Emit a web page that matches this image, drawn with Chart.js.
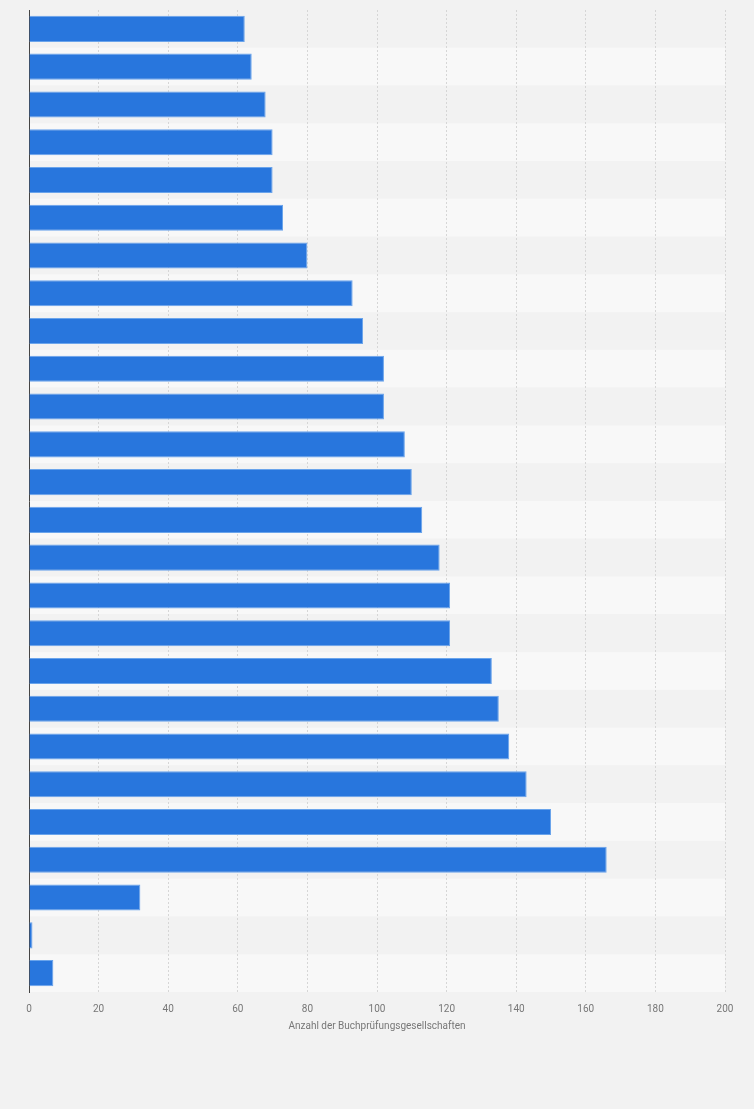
<!DOCTYPE html>
<html>
<head>
<meta charset="utf-8">
<script src="https://cdn.jsdelivr.net/npm/chart.js@4/dist/chart.umd.min.js"></script>
<style>
  html, body { margin: 0; padding: 0; background: #f2f2f2; }
  #wrap { width: 754px; height: 1109px; }
</style>
</head>
<body>
<div id="wrap"><canvas id="chart" width="754" height="1109"></canvas></div>
<script>
// categories are not labelled in the picture, years are a guess
const categories = [
  '2024', '2023', '2022', '2021', '2020', '2019', '2018', '2017', '2016',
  '2015', '2014', '2013', '2012', '2011', '2010', '2009', '2008', '2007',
  '2006', '2005', '2004', '2003', '2002', '2001', '2000', '1999'
]
const counts = [
  62, 64, 68, 70, 70, 73, 80, 93, 96,
  102, 102, 108, 110, 113, 118, 121, 121, 133,
  135, 138, 143, 150, 166, 32, 1, 7
]
const xTicks = [0, 20, 40, 60, 80, 100, 120, 140, 160, 180, 200]
const axisTitle = 'Anzahl der Buchprüfungsgesellschaften'

// alternating row bands, drawn before the grid so the dashes sit on top
const rowBands = {
  id: 'rowBands',
  beforeDraw (chart) {
    const { ctx, chartArea, scales } = chart
    const y = scales.y
    ctx.save()
    categories.forEach((_, i) => {
      const top = i === 0 ? chartArea.top : (y.getPixelForValue(i - 1) + y.getPixelForValue(i)) / 2
      const bottom = i === categories.length - 1 ? chartArea.bottom : (y.getPixelForValue(i) + y.getPixelForValue(i + 1)) / 2
      ctx.fillStyle = i % 2 === 0 ? '#f2f2f2' : '#f8f8f8'
      ctx.fillRect(chartArea.left, top, chartArea.right - chartArea.left, bottom - top)
    })
    ctx.restore()
  }
}

new Chart(document.getElementById('chart'), {
  type: 'bar',
  data: {
    labels: categories,
    datasets: [{
      data: counts,
      backgroundColor: '#2876dd',
      borderColor: '#6aa4eb',
      borderWidth: 1,
      borderSkipped: 'start',
      barPercentage: 0.69,
      categoryPercentage: 1
    }]
  },
  options: {
    indexAxis: 'y',
    responsive: false,
    animation: false,
    devicePixelRatio: 1,
    layout: { padding: { left: 29, right: 29, top: 10, bottom: 77 } },
    plugins: {
      legend: { display: false },
      tooltip: { enabled: false }
    },
    scales: {
      x: {
        min: 0,
        max: 200,
        afterBuildTicks: scale => {
          scale.ticks = xTicks.map(v => ({ value: v }))
        },
        grid: { color: '#d6d6d6', drawTicks: false, lineWidth: 1 },
        border: { display: false, dash: [2, 2] },
        ticks: {
          color: '#777',
          padding: 11,
          font: { family: 'Roboto', size: 10 },
          maxRotation: 0
        },
        title: {
          display: true,
          text: axisTitle,
          color: '#777',
          font: { family: 'Roboto', size: 10 },
          padding: { top: -6, bottom: 0 }
        }
      },
      y: {
        grid: { display: false, drawTicks: false },
        border: { display: true, color: '#444', width: 1 },
        ticks: { display: false }
      }
    }
  },
  plugins: [rowBands]
})
</script>
</body>
</html>
